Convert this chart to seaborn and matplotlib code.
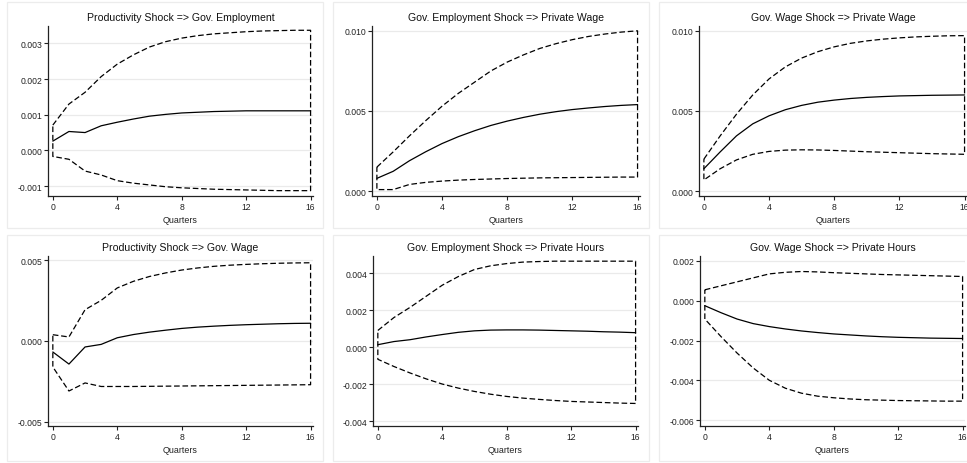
import numpy as np
import pandas as pd
import matplotlib
matplotlib.use("Agg")
import matplotlib.pyplot as plt
from matplotlib.patches import Rectangle
from matplotlib.ticker import FormatStrFormatter
import seaborn as sns

# ---------------------------------------------------------------------------
# Impulse responses (point estimate + 90% band)
# ---------------------------------------------------------------------------
quarters = [0, 1, 2, 3, 4, 5, 6, 7, 8, 9, 10, 11, 12, 13, 14, 15, 16]

titles = [
    "Productivity Shock => Gov. Employment",
    "Gov. Employment Shock => Private Wage",
    "Gov. Wage Shock => Private Wage",
    "Productivity Shock => Gov. Wage",
    "Gov. Employment Shock => Private Hours",
    "Gov. Wage Shock => Private Hours",
]

irf1 = [0.00026, 0.00053, 0.00050, 0.00069, 0.00079, 0.00088, 0.00096, 0.00101, 0.00105,
        0.00107, 0.00109, 0.00110, 0.00111, 0.00111, 0.00111, 0.00111, 0.00111]
hi1 = [0.00071, 0.00130, 0.00163, 0.00207, 0.00242, 0.00268, 0.00290, 0.00305, 0.00315,
       0.00322, 0.00327, 0.00330, 0.00333, 0.00335, 0.00336, 0.00337, 0.00337]
lo1 = [-0.00017, -0.00025, -0.00058, -0.00069, -0.00085, -0.00092, -0.00097, -0.00102, -0.00105,
       -0.00107, -0.00109, -0.00110, -0.00111, -0.00112, -0.00113, -0.00113, -0.00113]

irf2 = [0.00080, 0.00124, 0.00190, 0.00246, 0.00297, 0.00340, 0.00377, 0.00410, 0.00437,
        0.00460, 0.00480, 0.00496, 0.00509, 0.00519, 0.00528, 0.00535, 0.00540]
hi2 = [0.00150, 0.00245, 0.00345, 0.00440, 0.00530, 0.00610, 0.00680, 0.00750, 0.00805,
       0.00850, 0.00890, 0.00920, 0.00945, 0.00965, 0.00980, 0.00992, 0.01000]
lo2 = [0.00010, 0.00010, 0.00042, 0.00055, 0.00063, 0.00069, 0.00073, 0.00076, 0.00079,
       0.00081, 0.00083, 0.00084, 0.00085, 0.00086, 0.00087, 0.00088, 0.00088]

irf3 = [0.00140, 0.00245, 0.00345, 0.00420, 0.00470, 0.00508, 0.00535, 0.00555, 0.00568,
        0.00578, 0.00585, 0.00590, 0.00594, 0.00596, 0.00598, 0.00599, 0.00600]
hi3 = [0.00200, 0.00345, 0.00480, 0.00600, 0.00700, 0.00775, 0.00830, 0.00870, 0.00900,
       0.00922, 0.00937, 0.00948, 0.00956, 0.00962, 0.00966, 0.00969, 0.00970]
lo3 = [0.00070, 0.00140, 0.00195, 0.00230, 0.00248, 0.00256, 0.00258, 0.00257, 0.00254,
       0.00250, 0.00246, 0.00243, 0.00240, 0.00237, 0.00234, 0.00232, 0.00230]

irf4 = [-0.00068, -0.00143, -0.00037, -0.00021, 0.00020, 0.00040, 0.00055, 0.00067, 0.00078,
        0.00086, 0.00092, 0.00097, 0.00101, 0.00104, 0.00107, 0.00109, 0.00110]
hi4 = [0.00039, 0.00025, 0.00194, 0.00252, 0.00329, 0.00370, 0.00400, 0.00422, 0.00440,
       0.00453, 0.00463, 0.00470, 0.00475, 0.00479, 0.00482, 0.00484, 0.00485]
lo4 = [-0.00161, -0.00310, -0.00260, -0.00282, -0.00282, -0.00282, -0.00281, -0.00280, -0.00279,
       -0.00278, -0.00277, -0.00276, -0.00275, -0.00274, -0.00273, -0.00272, -0.00271]

irf5 = [0.00013, 0.00030, 0.00040, 0.00055, 0.00068, 0.00080, 0.00088, 0.00092, 0.00093,
        0.00093, 0.00092, 0.00090, 0.00088, 0.00086, 0.00083, 0.00081, 0.00078]
hi5 = [0.00090, 0.00160, 0.00215, 0.00275, 0.00335, 0.00382, 0.00420, 0.00440, 0.00452,
       0.00460, 0.00463, 0.00465, 0.00465, 0.00465, 0.00465, 0.00465, 0.00465]
lo5 = [-0.00066, -0.00105, -0.00140, -0.00172, -0.00200, -0.00222, -0.00240, -0.00255, -0.00267,
       -0.00276, -0.00283, -0.00289, -0.00294, -0.00297, -0.00300, -0.00303, -0.00305]

irf6 = [-0.00025, -0.00060, -0.00092, -0.00115, -0.00130, -0.00142, -0.00152, -0.00160, -0.00167,
        -0.00172, -0.00177, -0.00181, -0.00184, -0.00186, -0.00188, -0.00189, -0.00190]
hi6 = [0.00055, 0.00075, 0.00095, 0.00115, 0.00135, 0.00143, 0.00147, 0.00145, 0.00141,
       0.00138, 0.00135, 0.00132, 0.00130, 0.00128, 0.00126, 0.00124, 0.00122]
lo6 = [-0.00092, -0.00180, -0.00263, -0.00338, -0.00400, -0.00440, -0.00465, -0.00480, -0.00488,
       -0.00494, -0.00498, -0.00500, -0.00502, -0.00503, -0.00504, -0.00505, -0.00505]

series = [(irf1, hi1, lo1), (irf2, hi2, lo2), (irf3, hi3, lo3),
          (irf4, hi4, lo4), (irf5, hi5, lo5), (irf6, hi6, lo6)]

yticks = [
    [-0.001, 0.000, 0.001, 0.002, 0.003],
    [0.000, 0.005, 0.010],
    [0.000, 0.005, 0.010],
    [-0.005, 0.000, 0.005],
    [-0.004, -0.002, 0.000, 0.002, 0.004],
    [-0.006, -0.004, -0.002, 0.000, 0.002],
]
ylims = [(-0.00128, 0.00349), (-0.0003, 0.0103), (-0.0003, 0.0103),
         (-0.00527, 0.00527), (-0.00427, 0.00493), (-0.0063, 0.00225)]
xticks = [0, 4, 8, 12, 16]

# ---------------------------------------------------------------------------
# Layout (pixel positions of each plot region, figure = 967 x 464)
# ---------------------------------------------------------------------------
W, H = 967, 464
axes_px = [(48, 27, 265, 170), (372, 27, 268, 170), (699, 27, 268, 170),
           (48, 257, 265, 170), (373, 257, 265, 170), (700, 257, 265, 170)]
boxes_px = [(7, 3, 316, 226), (333, 3, 316, 226), (659, 3, 316, 226),
            (7, 236, 316, 226), (333, 236, 316, 226), (659, 236, 316, 226)]

sns.set_theme(style="white")
plt.rcParams["font.family"] = ["Liberation Sans", "DejaVu Sans"]
plt.rcParams["axes.unicode_minus"] = True

fig = plt.figure(figsize=(W / 100, H / 100), dpi=100)
fig.patch.set_facecolor("white")

for (bx, by, bw, bh) in boxes_px:
    fig.patches.append(Rectangle((bx / W, 1 - (by + bh) / H), bw / W, bh / H,
                                 transform=fig.transFigure, fill=False,
                                 edgecolor="#ececec", linewidth=0.9))

for i, (title, (irf, hi, lo)) in enumerate(zip(titles, series)):
    x0, y0, w, h = axes_px[i]
    ax = fig.add_axes([x0 / W, 1 - (y0 + h) / H, w / W, h / H])

    # closed confidence band: upper left->right, lower right->left, back to start
    band = pd.DataFrame({
        "q": quarters + quarters[::-1] + quarters[:1],
        "v": hi + lo[::-1] + hi[:1],
    })
    sns.lineplot(data=band, x="q", y="v", sort=False, estimator=None,
                 color="black", linewidth=0.9, linestyle=(0, (4.5, 2.2)), ax=ax)

    line = pd.DataFrame({"q": quarters, "v": irf})
    sns.lineplot(data=line, x="q", y="v", color="black", linewidth=0.9, ax=ax)

    ax.set_xlim(-0.3, 16.15)
    ax.set_ylim(*ylims[i])
    ax.set_xticks(xticks)
    ax.set_yticks(yticks[i])
    ax.yaxis.set_major_formatter(FormatStrFormatter("%.3f"))
    ax.grid(axis="y", color="#eaeaea", linewidth=0.9)
    ax.grid(axis="x", visible=False)
    ax.set_axisbelow(True)

    for s in ["top", "right"]:
        ax.spines[s].set_visible(False)
    for s in ["left", "bottom"]:
        ax.spines[s].set_color("#222222")
        ax.spines[s].set_linewidth(0.9)

    ax.tick_params(axis="both", which="major", direction="out", length=2.8,
                   width=0.8, color="#222222", labelsize=6.2, pad=1.5,
                   left=True, bottom=True, labelcolor="#222222")
    ax.set_xlabel("Quarters", fontsize=6.4, labelpad=3, color="#222222")
    ax.set_ylabel("")
    ax.set_title(title, fontsize=7.6, pad=4, color="#111111")

fig.savefig("out.png", dpi=100)
